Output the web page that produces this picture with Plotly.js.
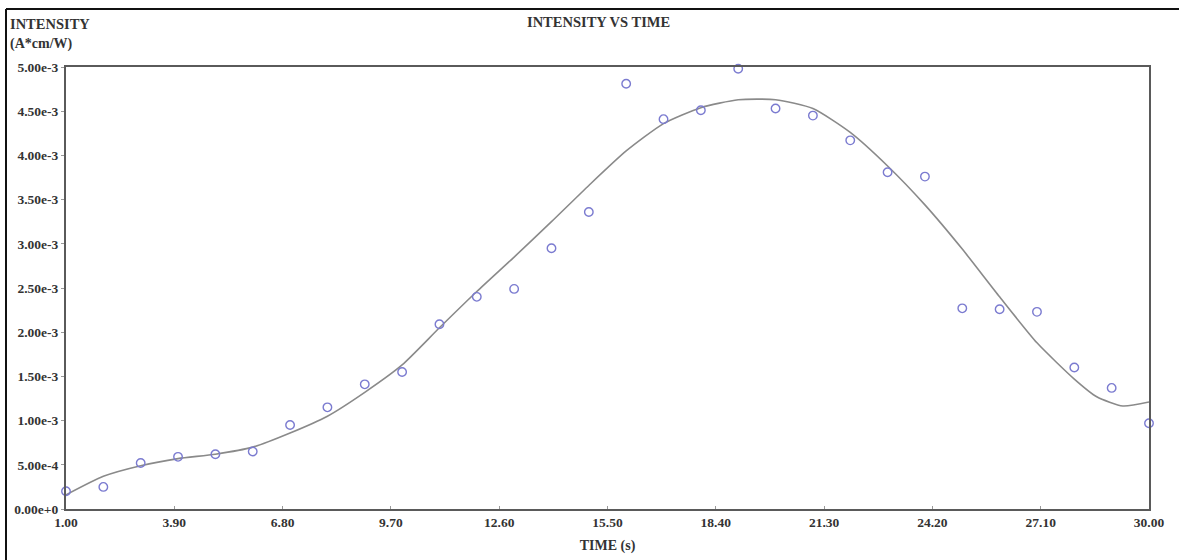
<!DOCTYPE html>
<html>
<head>
<meta charset="utf-8">
<script src="https://cdn.plot.ly/plotly-3.0.1.min.js"></script>
<style>
  html, body { margin: 0; padding: 0; background: #fff; }
  #chart { width: 1179px; height: 560px; }
</style>
</head>
<body>
<div id="chart"></div>
<script>
// Measured data points (time in s, intensity in A*cm/W)
const timeData = [1,2,3,4,5,6,7,8,9,10,11,12,13,14,15,16,17,18,19,20,21,22,23,24,25,26,27,28,29,30];
const intensityData = [0.20e-3,0.25e-3,0.52e-3,0.59e-3,0.62e-3,0.65e-3,0.95e-3,1.15e-3,1.41e-3,1.55e-3,
  2.09e-3,2.40e-3,2.49e-3,2.95e-3,3.36e-3,4.81e-3,4.41e-3,4.51e-3,4.98e-3,4.53e-3,
  4.45e-3,4.17e-3,3.81e-3,3.76e-3,2.27e-3,2.26e-3,2.23e-3,1.60e-3,1.37e-3,0.97e-3];

// Fitted curve
const fitTime = [1,2,3,4,5,6,7,8,9,10,11,12,13,14,15,16,17,18,19,20,21,22,23,24,25,26,27,28,28.6,29.3,30];
const fitIntensity = [0.16e-3,0.37e-3,0.49e-3,0.57e-3,0.62e-3,0.70e-3,0.86e-3,1.05e-3,1.32e-3,1.63e-3,
  2.05e-3,2.46e-3,2.85e-3,3.25e-3,3.66e-3,4.05e-3,4.36e-3,4.54e-3,4.63e-3,4.63e-3,
  4.53e-3,4.26e-3,3.88e-3,3.44e-3,2.94e-3,2.40e-3,1.88e-3,1.47e-3,1.27e-3,1.165e-3,1.21e-3];

const xTickVals = [1.00,3.90,6.80,9.70,12.60,15.50,18.40,21.30,24.20,27.10,30.00];
const xTickText = ["1.00","3.90","6.80","9.70","12.60","15.50","18.40","21.30","24.20","27.10","30.00"];
const yTickVals = [0,0.5e-3,1.0e-3,1.5e-3,2.0e-3,2.5e-3,3.0e-3,3.5e-3,4.0e-3,4.5e-3,5.0e-3];
const yTickText = ["0.00e+0","5.00e-4","1.00e-3","1.50e-3","2.00e-3","2.50e-3","3.00e-3","3.50e-3","4.00e-3","4.50e-3","5.00e-3"];

const W = 1179, H = 560;
const mL = 66, mR = 30, mT = 67, mB = 51;
const pw = W - mL - mR, ph = H - mT - mB;
const px = v => (v - mL) / pw;          // pixel x -> paper
const py = v => (H - mB - v) / ph;      // pixel y -> paper

const FONT = "Liberation Serif, Times New Roman, serif";
const TXT = "#333";

const traces = [
  {
    x: fitTime, y: fitIntensity, type: "scatter", mode: "lines",
    line: { color: "#8a8a8a", width: 1.6, shape: "spline", smoothing: 0.6 }, hoverinfo: "skip", cliponaxis: false
  },
  {
    x: timeData, y: intensityData, type: "scatter", mode: "markers",
    marker: { symbol: "circle-open", size: 8.5, color: "#7b7bd0", line: { width: 1.4, color: "#7b7bd0" } },
    cliponaxis: false
  }
];

const layout = {
  width: W, height: H,
  margin: { l: mL, r: mR, t: mT, b: mB, pad: 0 },
  paper_bgcolor: "#fff", plot_bgcolor: "#fff",
  showlegend: false,
  font: { family: FONT, size: 13, color: TXT },
  xaxis: {
    range: [1, 30], tickvals: xTickVals, ticktext: xTickText,
    showgrid: false, zeroline: false,
    showline: true, linecolor: "#5a5a5a", linewidth: 2, mirror: true,
    ticks: "inside", ticklen: 3, tickcolor: "#999", tickwidth: 1,
    tickfont: { family: FONT, size: 13.5, color: TXT, weight: "bold" },
    title: { text: "<b>TIME (s)</b>", font: { family: FONT, size: 14, color: TXT }, standoff: 11 },
    automargin: false
  },
  yaxis: {
    range: [0, 5e-3], tickvals: yTickVals, ticktext: yTickText,
    showgrid: false, zeroline: false,
    showline: true, linecolor: "#5a5a5a", linewidth: 2, mirror: true,
    ticks: "outside", ticklen: 3, tickcolor: "#999", tickwidth: 1,
    tickfont: { family: FONT, size: 13.5, color: TXT, weight: "bold" },
    automargin: false
  },
  annotations: [
    { text: "<b>INTENSITY VS TIME</b>", xref: "paper", yref: "paper", x: px(598), y: py(22),
      xanchor: "center", yanchor: "middle", showarrow: false, font: { family: FONT, size: 14.5, color: TXT } },
    { text: "<b>INTENSITY</b>", xref: "paper", yref: "paper", x: px(8), y: py(24),
      xanchor: "left", yanchor: "middle", showarrow: false, font: { family: FONT, size: 14.5, color: TXT } },
    { text: "<b>(A*cm/W)</b>", xref: "paper", yref: "paper", x: px(8), y: py(44),
      xanchor: "left", yanchor: "middle", showarrow: false, font: { family: FONT, size: 14, color: TXT } }
  ],
  shapes: [
    { type: "line", xref: "paper", yref: "paper", x0: px(6), x1: px(W + 2), y0: py(9), y1: py(9),
      line: { color: "#111", width: 2 } },
    { type: "line", xref: "paper", yref: "paper", x0: px(6), x1: px(6), y0: py(9), y1: py(H + 2),
      line: { color: "#111", width: 2 } }
  ]
};

Plotly.newPlot("chart", traces, layout, { displayModeBar: false, staticPlot: true });
</script>
</body>
</html>
